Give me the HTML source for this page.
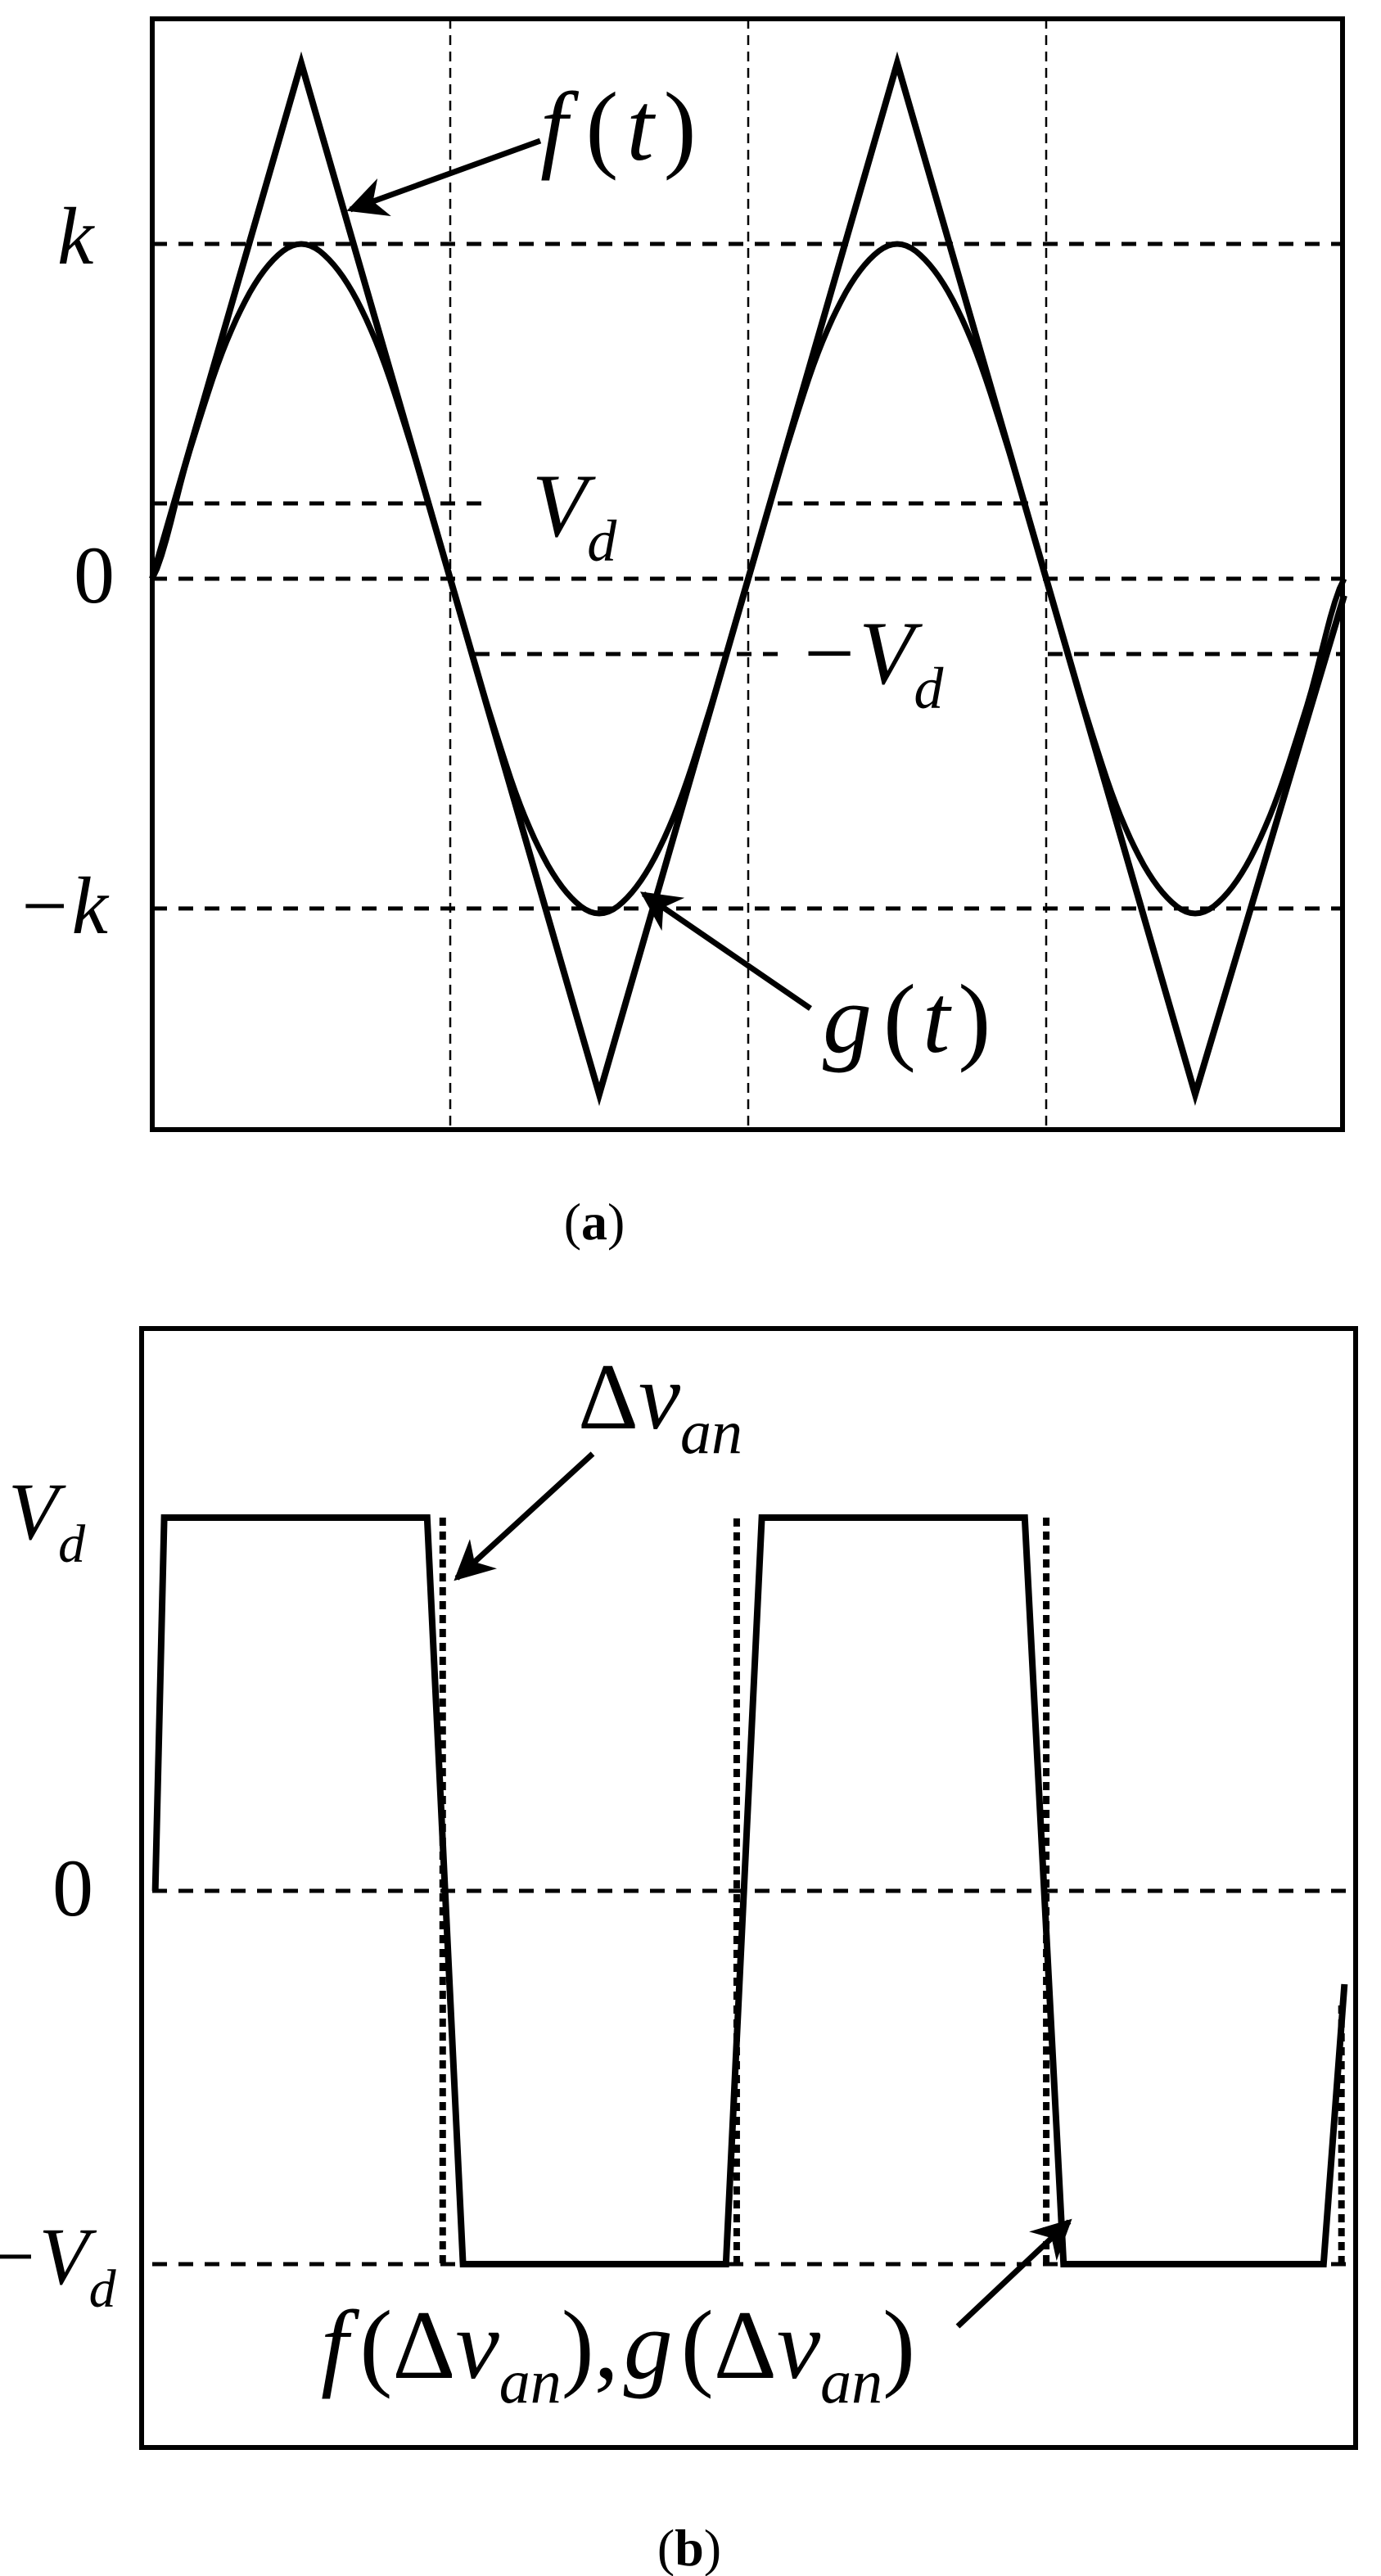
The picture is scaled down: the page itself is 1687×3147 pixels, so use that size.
<!DOCTYPE html>
<html><head><meta charset="utf-8"><style>
html,body{margin:0;padding:0;background:#fff}
svg{display:block}
text{font-family:"Liberation Serif",serif;fill:#000}
.it{font-style:italic}
</style></head><body>
<svg id="fig" width="1687" height="3147" viewBox="0 0 1687 3147">
<defs><marker id="ah" viewBox="0 0 10 10" refX="9" refY="5" markerWidth="7" markerHeight="7" orient="auto"><path d="M0,0 L10,5 L0,10 L3,5z" fill="#000"/></marker></defs>
<g id="pa">
<rect x="186" y="23" width="1454" height="1357" fill="none" stroke="#000" stroke-width="6"/>
</g>
<g id="pb">
<rect x="173" y="1623" width="1483" height="1367" fill="none" stroke="#000" stroke-width="6"/>
</g>
<text x="70" y="322" class="it" font-size="100">k</text>
<text x="90" y="736" font-size="100">0</text>
<text x="20" y="1140" class="it" font-size="100">−k</text>
<text x="650" y="655" class="it" font-size="110">V<tspan font-size="72" dy="30">d</tspan></text>
<text x="975" y="835" class="it" font-size="110">−V<tspan font-size="72" dy="30">d</tspan></text>
<text x="660" y="195" class="it" font-size="120">f<tspan font-style="normal" dx="22">(</tspan><tspan dx="10">t</tspan><tspan font-style="normal" dx="12">)</tspan></text>
<text x="1005" y="1285" class="it" font-size="120">g<tspan font-style="normal" dx="14">(</tspan><tspan dx="8">t</tspan><tspan font-style="normal" dx="10">)</tspan></text>
<line x1="660" y1="172" x2="428" y2="256" stroke="#000" stroke-width="7" marker-end="url(#ah)"/>
<line x1="990" y1="1232" x2="786" y2="1092" stroke="#000" stroke-width="7" marker-end="url(#ah)"/>
<text x="726" y="1514" text-anchor="middle" font-size="64">(<tspan font-weight="bold">a</tspan>)</text>
<text x="10" y="1880" class="it" font-size="100">V<tspan font-size="66" dy="28">d</tspan></text>
<text x="64" y="2340" font-size="100">0</text>
<text x="-20" y="2790" class="it" font-size="100">−V<tspan font-size="66" dy="28">d</tspan></text>
<text x="706" y="1745" font-size="115">Δ<tspan class="it">v</tspan><tspan class="it" font-size="76" dy="30">an</tspan></text>
<line x1="724" y1="1776" x2="558" y2="1928" stroke="#000" stroke-width="7" marker-end="url(#ah)"/>
<text x="392" y="2905" font-size="120"><tspan class="it">f</tspan><tspan dx="14">(</tspan>Δ<tspan class="it">v</tspan><tspan class="it" font-size="76" dy="30">an</tspan><tspan dy="-30">),</tspan><tspan class="it" dx="6">g</tspan><tspan dx="10">(</tspan>Δ<tspan class="it">v</tspan><tspan class="it" font-size="76" dy="30">an</tspan><tspan dy="-30">)</tspan></text>
<line x1="1170" y1="2842" x2="1306" y2="2714" stroke="#000" stroke-width="7" marker-end="url(#ah)"/>
<text x="842" y="3134" text-anchor="middle" font-size="64">(<tspan font-weight="bold">b</tspan>)</text>
</svg>
<script>
// ---- Panel a data (time in periods, value in units of k) ----
const triT = [0, 0.25, 0.75, 1.25, 1.75, 2.0];
const triV = [0, 1.54, -1.54, 1.54, -1.54, -0.05];
const sineV = [0,0.38,0.71,0.92,1,0.92,0.71,0.38,0,-0.38,-0.71,-0.92,-1,-0.92,-0.71,-0.38,
               0,0.38,0.71,0.92,1,0.92,0.71,0.38,0,-0.38,-0.71,-0.92,-1,-0.92,-0.71,-0.38,0];
const aLevels = [1, 0.225, 0, -0.225, -0.985];
const aGridT = [0.5, 1.0, 1.5];
// ---- Panel b data (time in periods, value in units of Vd) ----
const solidT = [0.005, 0.02, 0.46, 0.52, 0.96, 1.02, 1.46, 1.525, 1.96, 1.995];
const solidV = [0, 1, 1, -1, -1, 1, 1, -1, -1, -0.25];
const dotT = [0.486, 0.978, 1.496, 1.99];
const dotFrom = [1, -1, 1, -1];
const dotTo = [-1, 1, -1, -0.3];
const bLevels = [0, -1];

const NS = "http://www.w3.org/2000/svg";
const pa = document.getElementById('pa'), pb = document.getElementById('pb');
const ax = t => 186 + t * 728;
const ay = v => 707 - v * 409;
const bxx = t => 186 + t * 730;
const by = v => 2310 - v * 456;

function mk(parent, tag, attrs) {
  const e = document.createElementNS(NS, tag);
  for (const k in attrs) e.setAttribute(k, attrs[k]);
  parent.appendChild(e);
  return e;
}
const segs = {'1':[[186,1640]], '0.225':[[186,600],[950,1280]], '0':[[186,1640]], '-0.225':[[580,960],[1280,1640]], '-0.985':[[186,1640]]};
aLevels.forEach(v => {
  (segs[String(v)] || [[186,1640]]).forEach(s => {
    const l = mk(pa, 'line', {x1:s[0], x2:s[1], y1:ay(v), y2:ay(v), stroke:'#000', 'stroke-width':5, 'stroke-dasharray':'18 14'});
    
    
  });
});
aGridT.forEach(t => {
  const l = mk(pa, 'line', {x1:ax(t), x2:ax(t), y1:23, y2:1380, stroke:'#000', 'stroke-width':2.5, 'stroke-dasharray':'12 8'});
  
  
});
let d = '';
for (let i = 0; i < sineV.length - 1; i++) {
  const p0 = sineV[Math.max(0, i - 1)], p1 = sineV[i], p2 = sineV[i + 1], p3 = sineV[Math.min(sineV.length - 1, i + 2)];
  for (let s = 0; s <= 8; s++) {
    const u = s / 8;
    const v = 0.5 * ((2 * p1) + (-p0 + p2) * u + (2 * p0 - 5 * p1 + 4 * p2 - p3) * u * u + (-p0 + 3 * p1 - 3 * p2 + p3) * u * u * u);
    d += (i || s ? 'L' : 'M') + ax((i + u) / 16).toFixed(1) + ',' + ay(v).toFixed(1);
  }
}
const g = mk(pa, 'path', {d: d, fill:'none', stroke:'#000', 'stroke-width':7});


let dt = '';
triT.forEach((t, i) => { dt += (i ? 'L' : 'M') + ax(t) + ',' + ay(triV[i]); });
const f = mk(pa, 'path', {d: dt, fill:'none', stroke:'#000', 'stroke-width':8});


bLevels.forEach(v => {
  const l = mk(pb, 'line', {x1:186, x2:1650, y1:by(v), y2:by(v), stroke:'#000', 'stroke-width':5, 'stroke-dasharray':'18 14'});
  
  
});
let ds = '';
solidT.forEach((t, i) => { ds += (i ? 'L' : 'M') + bxx(t) + ',' + by(solidV[i]); });
const sp = mk(pb, 'path', {d: ds, fill:'none', stroke:'#000', 'stroke-width':8});


let dd = '';
dotT.forEach((t, i) => { dd += 'M' + bxx(t) + ',' + by(dotFrom[i]) + 'L' + bxx(t) + ',' + by(dotTo[i]); });
const dp = mk(pb, 'path', {d: dd, fill:'none', stroke:'#000', 'stroke-width':8, 'stroke-dasharray':'10 7'});


</script>
</body></html>
